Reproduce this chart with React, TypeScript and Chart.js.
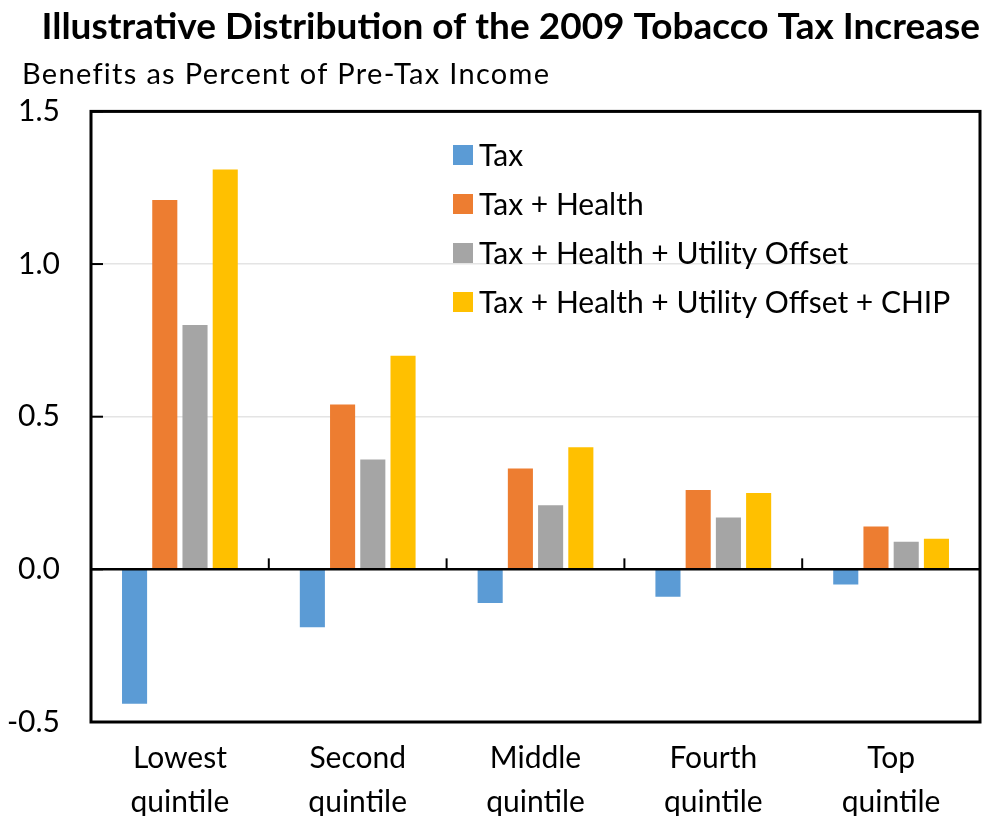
import React, { useEffect, useRef } from "react";
import { Chart, registerables } from "chart.js";

Chart.register(...registerables);

const categories: string[][] = [
  ["Lowest", "quintile"],
  ["Second", "quintile"],
  ["Middle", "quintile"],
  ["Fourth", "quintile"],
  ["Top", "quintile"],
];

const seriesLabels = [
  "Tax",
  "Tax + Health",
  "Tax + Health + Utility Offset",
  "Tax + Health + Utility Offset + CHIP",
];

const taxValues = [-0.44, -0.19, -0.11, -0.09, -0.05];
const taxHealthValues = [1.21, 0.54, 0.33, 0.26, 0.14];
const taxHealthUtilityValues = [0.8, 0.36, 0.21, 0.17, 0.09];
const taxHealthUtilityChipValues = [1.31, 0.7, 0.4, 0.25, 0.1];

const seriesColors = ["#5B9BD5", "#ED7D31", "#A5A5A5", "#FFC000"];

const yMin = -0.5;
const yMax = 1.5;
const yStep = 0.5;

const titleText = "Illustrative Distribution of the 2009 Tobacco Tax Increase";
const subtitleText = "Benefits as Percent of Pre-Tax Income";

const FONT = "Lato, 'Open Sans', 'DejaVu Sans', sans-serif";

const framePlugin = {
  id: "frameAndTicks",
  afterDatasetsDraw(chart: any) {
    const { ctx, chartArea: a, scales } = chart;
    const x = scales.x;
    const y = scales.y;
    ctx.save();
    ctx.strokeStyle = "#000";
    const y0 = y.getPixelForValue(0);
    ctx.lineWidth = 2.5;
    ctx.beginPath();
    ctx.moveTo(a.left, y0);
    ctx.lineTo(a.right, y0);
    ctx.stroke();
    ctx.lineWidth = 2;
    for (let i = 1; i < categories.length; i++) {
      const xb = (x.getPixelForValue(i - 1) + x.getPixelForValue(i)) / 2;
      ctx.beginPath();
      ctx.moveTo(xb, y0);
      ctx.lineTo(xb, y0 - 11);
      ctx.stroke();
    }
    y.ticks.forEach((t: any) => {
      const yy = y.getPixelForValue(t.value);
      ctx.beginPath();
      ctx.moveTo(a.left, yy);
      ctx.lineTo(a.left + 12, yy);
      ctx.stroke();
    });
    ctx.lineWidth = 3;
    ctx.strokeRect(a.left, a.top, a.right - a.left, a.bottom - a.top);
    ctx.restore();
  },
};

const subtitlePlugin = {
  id: "leftSubtitle",
  afterDraw(chart: any) {
    const { ctx } = chart;
    ctx.save();
    ctx.font = `29px ${FONT}`;
    (ctx as any).letterSpacing = "1.3px";
    ctx.textBaseline = "middle";
    ctx.textAlign = "left";
    ctx.fillStyle = "#000";
    ctx.fillText(subtitleText, 22, 75);
    ctx.restore();
  },
};

const legendPlugin = {
  id: "insideLegend",
  afterDraw(chart: any) {
    const { ctx } = chart;
    const left = 453;
    const top = 155;
    const rowGap = 49;
    const box = 20;
    ctx.save();
    ctx.font = `30px ${FONT}`;
    ctx.textBaseline = "middle";
    ctx.textAlign = "left";
    chart.data.datasets.forEach((ds: any, i: number) => {
      const cy = top + i * rowGap;
      ctx.fillStyle = ds.backgroundColor;
      ctx.fillRect(left, cy - box / 2, box, box);
      ctx.fillStyle = "#000";
      ctx.fillText(ds.label, left + box + 6, cy + 1);
    });
    ctx.restore();
  },
};

export default function App() {
  const canvasRef = useRef<HTMLCanvasElement | null>(null);

  useEffect(() => {
    if (!canvasRef.current) return;
    Chart.defaults.color = "#000";
    const seriesValues = [
      taxValues,
      taxHealthValues,
      taxHealthUtilityValues,
      taxHealthUtilityChipValues,
    ];
    const chart = new Chart(canvasRef.current, {
      type: "bar",
      data: {
        labels: categories,
        datasets: seriesLabels.map((label, i) => ({
          label,
          data: seriesValues[i],
          backgroundColor: seriesColors[i],
          borderWidth: 0,
          barPercentage: 0.83,
          categoryPercentage: 0.68,
        })),
      },
      options: {
        animation: false,
        responsive: false,
        devicePixelRatio: 1,
        layout: { padding: { left: 0, right: 2, top: 0, bottom: 0 } },
        plugins: {
          legend: { display: false },
          tooltip: { enabled: false },
          title: {
            display: true,
            text: titleText,
            align: "end",
            color: "#000",
            font: { family: FONT, size: 37, weight: "bold" },
            padding: { top: 5, bottom: 62 },
          },
          subtitle: { display: false },
        },
        scales: {
          x: {
            grid: { display: false, drawTicks: false },
            border: { display: false },
            ticks: {
              font: { family: FONT, size: 30, lineHeight: 1.47 },
              color: "#000",
              padding: 14,
              maxRotation: 0,
              autoSkip: false,
            },
            afterFit: (s: any) => {
              s.height = 108;
            },
          },
          y: {
            min: yMin,
            max: yMax,
            grid: {
              drawTicks: false,
              color: (c: any) => (c.tick && c.tick.value === 0 ? "rgba(0,0,0,0)" : "#e4e4e4"),
              lineWidth: 1.5,
            },
            border: { display: false },
            ticks: {
              stepSize: yStep,
              padding: 31,
              color: "#000",
              font: { family: FONT, size: 30 },
              callback: (v: any) => Number(v).toFixed(1),
            },
            afterFit: (s: any) => {
              s.width = 91;
            },
          },
        },
      },
      plugins: [framePlugin, subtitlePlugin, legendPlugin],
    });
    return () => chart.destroy();
  }, []);

  return (
    <div style={{ position: "absolute", left: 0, top: 0, width: 982, height: 830, background: "#fff" }}>
      <canvas ref={canvasRef} width={982} height={830} />
    </div>
  );
}
